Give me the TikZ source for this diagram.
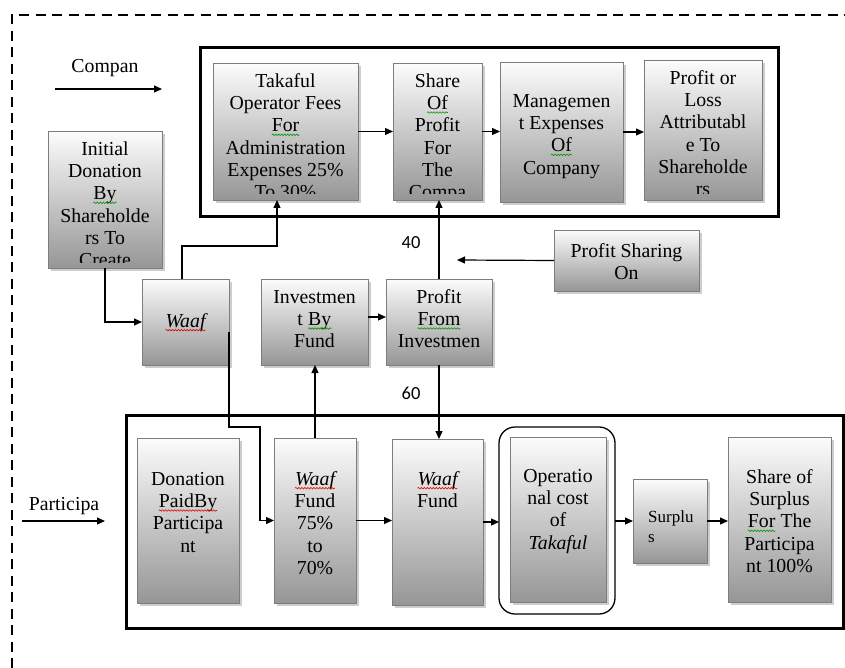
\documentclass[tikz,border=0pt]{standalone}
\usepackage{fontspec}
\setmainfont{Liberation Serif}
\newfontfamily\calib{Carlito}
\usetikzlibrary{arrows.meta,fit,decorations.pathmorphing}
\definecolor{gtop}{RGB}{252,252,252}
\definecolor{gbot}{RGB}{150,150,150}
\definecolor{gline}{RGB}{125,125,125}
\definecolor{shd}{RGB}{205,205,205}
\definecolor{wred}{RGB}{225,0,0}
\definecolor{wgreen}{RGB}{0,150,0}
\tikzset{
 gbox/.style={draw=gline, line width=0.9pt, top color=gtop, bottom color=gbot, inner sep=0pt, outer sep=0pt, rectangle},
 shad/.style={fill=shd},
 txt/.style={align=center, font=\fontsize{19.8}{22.3}\selectfont, inner sep=0pt},
 lbl/.style={font=\fontsize{19.8}{22}\selectfont, inner sep=0pt},
 num/.style={font=\calib\fontsize{18.5}{22}\selectfont, inner sep=0pt},
 arr/.style={line width=1.2pt, -{Triangle[length=8pt,width=7pt]}},
 frame/.style={draw, line width=3pt, inner sep=0pt, outer sep=0pt, rectangle},
 dashframe/.style={line width=2pt, dash pattern=on 10pt off 6.5pt},
}
\newcommand\wv[2]{\tikz[baseline=(w.base)]{\node[inner sep=0pt,outer sep=0pt] (w) {#2};\draw[#1,line width=0.6pt,decorate,decoration={snake,amplitude=0.8pt,segment length=3pt}] ([yshift=-3pt]w.base west) -- ([yshift=-3pt]w.base east);}}
\newcommand\gb[5]{\fill[shad] (#2+3,#3+3) rectangle (#4+3,#5+3);
 \node[gbox,fit={(#2,#3) (#4,#5)}] (#1) {};}
\newcommand\bt[3]{\begin{scope}\clip ([yshift=6pt]#1.south west) rectangle (#1.north east);
 \node[txt,anchor=north] (#1t) at ([yshift=-#2pt]#1.north) {\rule{0pt}{14pt}#3};\end{scope}}
\begin{document}
\begin{tikzpicture}[x=1pt,y=-1pt]
\useasboundingbox (0,0) rectangle (845,668);
% dashed outer border
\draw[dashframe] (12,668) -- (12,15) -- (845,15);
% thick frames
\node[frame, fit={(200,48) (778,217)}] (topfr) {};
\node[frame, fit={(126,415) (843,628)}] (botfr) {};
% boxes
\gb{tak}{213}{63}{358}{200}
\gb{sop}{393}{63}{482}{200}
\gb{mgt}{500}{62}{623}{202}
\gb{pol}{644}{60}{762}{200}
\gb{ini}{48}{131}{162}{268}
\gb{ps}{554}{230}{699}{291}
\gb{waaf}{142}{279}{229}{365}
\gb{ibf}{261}{279}{368}{365}
\gb{pfi}{386}{279}{492}{365}
\gb{don}{137}{438}{239}{603}
\gb{wf1}{274}{438}{356}{603}
\gb{wf2}{392}{439}{483}{605}
\node[draw, rounded corners=16pt, line width=1.3pt, inner sep=0pt, outer sep=0pt, fit={(499,427) (615,614)}] (opo) {};
\gb{op}{510}{437}{606}{602}
\gb{sur}{633}{479}{707}{563}
\gb{sos}{728}{437}{831}{602}
% texts
\bt{tak}{10}{Takaful\\Operator Fees\\\wv{wgreen}{For}\\Administration\\Expenses 25\%\\To 30\%}
\bt{sop}{10}{Share\\\wv{wgreen}{Of}\\Profit\\For\\The\\Compa}
\bt{mgt}{31}{Managemen\\t Expenses\\\wv{wgreen}{Of}\\Company}
\bt{pol}{10}{Profit or\\Loss\\Attributabl\\e To\\Shareholde\\rs}
\bt{ini}{10}{Initial\\Donation\\\wv{wgreen}{By}\\Shareholde\\rs To\\Create}
\bt{ps}{13}{Profit Sharing\\On}
\bt{waaf}{34}{\textit{\wv{wred}{Waaf}}}
\bt{ibf}{10}{Investmen\\t \wv{wgreen}{By}\\Fund}
\bt{pfi}{10}{Profit\\\wv{wgreen}{From}\\Investmen}
\bt{don}{33}{Donation\\\wv{wred}{PaidBy}\\Participa\\nt}
\bt{wf1}{33}{\textit{\wv{wred}{Waaf}}\\Fund\\75\%\\to\\70\%}
\bt{wf2}{32}{\textit{\wv{wred}{Waaf}}\\Fund}
\bt{op}{31}{Operatio\\nal cost\\of\\\textit{Takaful}}
\bt{sos}{32}{Share of\\Surplus\\\wv{wgreen}{For} The\\Participa\\nt 100\%}
\node[align=left, font=\fontsize{17}{20}\selectfont, inner sep=0pt, anchor=north west] (surt) at ([xshift=15pt,yshift=-29pt]sur.north west) {\rule{0pt}{14pt}Surplu\\s};
% free labels
\node[lbl, anchor=base] (tcomp) at (105,73) {Compan};
\node[lbl, anchor=base] (tpart) at (64,510) {Participa};
\node[num, anchor=base] (t40) at (411,248) {40};
\node[num, anchor=base] (t60) at (411,399) {60};
% free-end coordinates
\coordinate (c1) at (55,89);
\coordinate (c2) at (162,89);
\coordinate (p1) at (22,521);
\coordinate (p2) at (105,521);
\coordinate (k0) at (182,246);
\coordinate (k1) at (260,427);
\coordinate (psend) at (457,260);
% connectors
\draw[arr] (c1) -- (c2);
\draw[arr] (p1) -- (p2);
\draw[arr] (tak.east) -- (tak.east -| sop.west);
\draw[arr] (sop.east) -- (sop.east -| mgt.west);
\draw[arr] (mgt.east) -- (mgt.east -| pol.west);
\draw[arr] (ini.south) |- (waaf.west);
\draw[arr] (waaf.north -| k0) -- (k0) -| ([xshift=-8.5pt]tak.south);
\draw[arr] (ps.west) -- (psend);
\draw[arr] (pfi.north) -- (pfi.north |- sop.south);
\draw[arr] ([yshift=5pt]ibf.east) -- ([yshift=5pt]ibf.east -| pfi.west);
\draw[arr] (pfi.south) -- (pfi.south |- wf2.north);
\draw[arr] (wf1.north) -- (wf1.north |- ibf.south);
\draw[arr] ([yshift=-10pt]waaf.east) |- (k1) |- (wf1.west);
\draw[arr] (wf1.east) -- (wf1.east -| wf2.west);
\draw[arr] (wf2.east) -- (wf2.east -| opo.west);
\draw[arr] (opo.east |- sur.west) -- (sur.west);
\draw[arr] (sur.east) -- (sur.east -| sos.west);
\end{tikzpicture}
\end{document}
